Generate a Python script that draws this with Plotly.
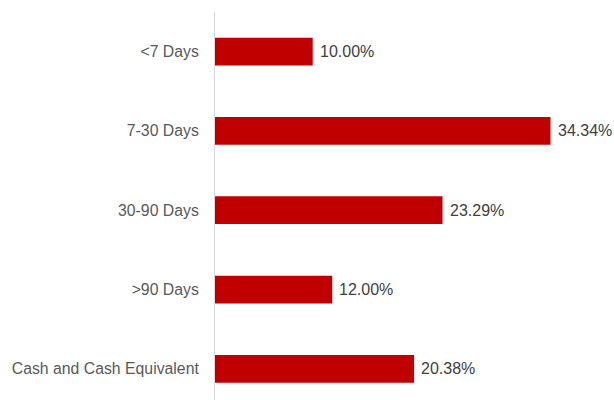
import plotly.graph_objects as go

categories = ["<7 Days", "7-30 Days", "30-90 Days", ">90 Days", "Cash and Cash Equivalent"]
values = [10.00, 34.34, 23.29, 12.00, 20.38]
labels = [f"{v:.2f}%" for v in values]

fig = go.Figure()
fig.add_trace(go.Bar(
    x=values, y=categories, orientation="h",
    marker=dict(color="#C00000", line=dict(width=0)),
    width=0.35, hoverinfo="skip",
))
for v, c, t in zip(values, categories, labels):
    fig.add_annotation(x=v, y=c, text=t, showarrow=False, xanchor="left",
                       xshift=5, font=dict(family="Liberation Sans, Arial", size=16, color="#404040"))

fig.update_layout(
    width=614, height=400,
    margin=dict(l=215, r=0, t=12, b=0),
    paper_bgcolor="white", plot_bgcolor="white",
    showlegend=False,
    font=dict(family="Liberation Sans, Arial", size=16, color="#595959"),
    xaxis=dict(range=[0, 40.84], visible=False, fixedrange=True),
    yaxis=dict(type="category", categoryorder="array", categoryarray=categories,
               range=[4.393, -0.5], showline=True, linecolor="#d9d9d9", linewidth=1,
               showgrid=False, zeroline=False, ticks="", ticklabelstandoff=12,
               tickfont=dict(size=15.8, color="#595959")),
)
fig.write_html("out.html", config={"displayModeBar": False},
               post_script="document.body.style.margin='0';document.body.style.overflow='hidden';")
